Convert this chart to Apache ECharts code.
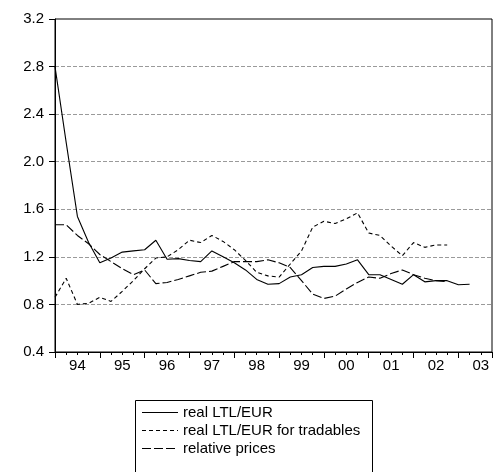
<!DOCTYPE html>
<html>
<head>
<meta charset="utf-8">
<script src="https://cdn.jsdelivr.net/npm/echarts@6/dist/echarts.min.js"></script>
<style>
  html, body { margin: 0; padding: 0; background: #fff; }
  #chart { width: 496px; height: 472px; }
</style>
</head>
<body>
<div id="chart"></div>
<script>
// Quarterly observations starting 1994Q1 (index 0)
const yearLabels = ['94', '95', '96', '97', '98', '99', '00', '01', '02', '03'];
const axisQuarters = 39;

const realLtlEur = [2.80, 2.16, 1.54, 1.32, 1.15, 1.19, 1.24, 1.25, 1.26, 1.34,
  1.18, 1.185, 1.17, 1.16, 1.25, 1.20, 1.15, 1.09, 1.01, 0.97,
  0.975, 1.03, 1.05, 1.11, 1.12, 1.12, 1.14, 1.175, 1.05, 1.05,
  1.01, 0.97, 1.05, 0.99, 1.00, 1.00, 0.965, 0.97];

const realTradables = [0.86, 1.02, 0.80, 0.81, 0.86, 0.825, 0.91, 1.00, 1.10, 1.19,
  1.20, 1.26, 1.34, 1.32, 1.38, 1.33, 1.26, 1.17, 1.07, 1.04,
  1.03, 1.14, 1.25, 1.45, 1.50, 1.48, 1.52, 1.57, 1.40, 1.38,
  1.29, 1.21, 1.32, 1.28, 1.30, 1.30];

const relativePrices = [1.47, 1.47, 1.38, 1.31, 1.22, 1.16, 1.10, 1.05, 1.09, 0.975,
  0.985, 1.01, 1.04, 1.07, 1.08, 1.12, 1.16, 1.16, 1.16, 1.175,
  1.15, 1.11, 1.00, 0.886, 0.85, 0.87, 0.93, 0.985, 1.03, 1.02,
  1.06, 1.09, 1.05, 1.02, 1.00, 0.99];

const seriesNames = ['real LTL/EUR', 'real LTL/EUR for tradables', 'relative prices'];
const dashTypes = ['solid', [4, 3], [9, 3]];

const FONT = 'Liberation Sans, Arial, sans-serif';
const toPairs = arr => arr.map((v, i) => [i, v]);

const chart = echarts.init(document.getElementById('chart'), null, { renderer: 'canvas' });

const baseX = {
  type: 'value', gridIndex: 0, position: 'bottom',
  min: 0, max: axisQuarters,
  splitLine: { show: false }
};

// Boxed key below the plot: line sample + series name per row
const legendLeft = 135, legendTop = 400, rowGap = 18;
const legendGraphics = [{
  type: 'rect', left: legendLeft, top: legendTop, silent: true,
  shape: { width: 237, height: 80 },
  style: { fill: '#fff', stroke: '#000', lineWidth: 1 }
}];
seriesNames.forEach((name, k) => {
  const cy = legendTop + 12.5 + k * rowGap;
  legendGraphics.push({
    type: 'line', silent: true,
    shape: { x1: 142, y1: cy, x2: 178, y2: cy },
    style: { stroke: '#000', lineWidth: 1.1, lineDash: dashTypes[k] === 'solid' ? null : dashTypes[k] }
  });
  legendGraphics.push({
    type: 'text', silent: true, x: 183, y: cy,
    style: { text: name, fill: '#000', font: '15px ' + FONT, textVerticalAlign: 'middle', verticalAlign: 'middle' }
  });
});

chart.setOption({
  animation: false,
  backgroundColor: '#fff',
  grid: {
    left: 55, right: 4, top: 19, bottom: 120,
    show: true, borderColor: '#000', borderWidth: 1,
    backgroundColor: 'transparent'
  },
  xAxis: [
    Object.assign({}, baseX, {
      interval: 1,
      axisLine: { show: true, lineStyle: { color: '#000', width: 1 } },
      axisTick: { show: true, inside: false, length: 3, lineStyle: { color: '#000' } },
      axisLabel: { show: false }
    }),
    Object.assign({}, baseX, {
      interval: 4,
      axisLine: { show: false },
      axisTick: { show: true, inside: false, length: 6, lineStyle: { color: '#000' } },
      axisLabel: { show: false }
    }),
    Object.assign({}, baseX, {
      interval: 2,
      axisLine: { show: false },
      axisTick: { show: false },
      axisLabel: {
        show: true, margin: 6, color: '#000', fontSize: 15, fontFamily: FONT,
        showMinLabel: true, showMaxLabel: true,
        formatter: v => (Math.round(v) % 4 === 2 ? yearLabels[(Math.round(v) - 2) / 4] || '' : '')
      }
    })
  ],
  yAxis: {
    type: 'value', min: 0.4, max: 3.2, interval: 0.4,
    axisLine: { show: true, lineStyle: { color: '#000', width: 1 } },
    axisTick: { show: true, inside: false, length: 6, lineStyle: { color: '#000' } },
    axisLabel: {
      margin: 11, color: '#000', fontSize: 15, fontFamily: FONT,
      formatter: v => v.toFixed(1)
    },
    splitLine: {
      show: true, showMinLine: false, showMaxLine: false,
      lineStyle: { color: '#9a9a9a', width: 1, type: [4, 2] }
    }
  },
  graphic: legendGraphics,
  series: [realLtlEur, realTradables, relativePrices].map((arr, k) => ({
    name: seriesNames[k], type: 'line', xAxisIndex: 0,
    data: toPairs(arr), symbol: 'none',
    lineStyle: { color: '#000', width: 1.1, type: dashTypes[k] },
    itemStyle: { color: '#000' }
  }))
});
</script>
</body>
</html>
